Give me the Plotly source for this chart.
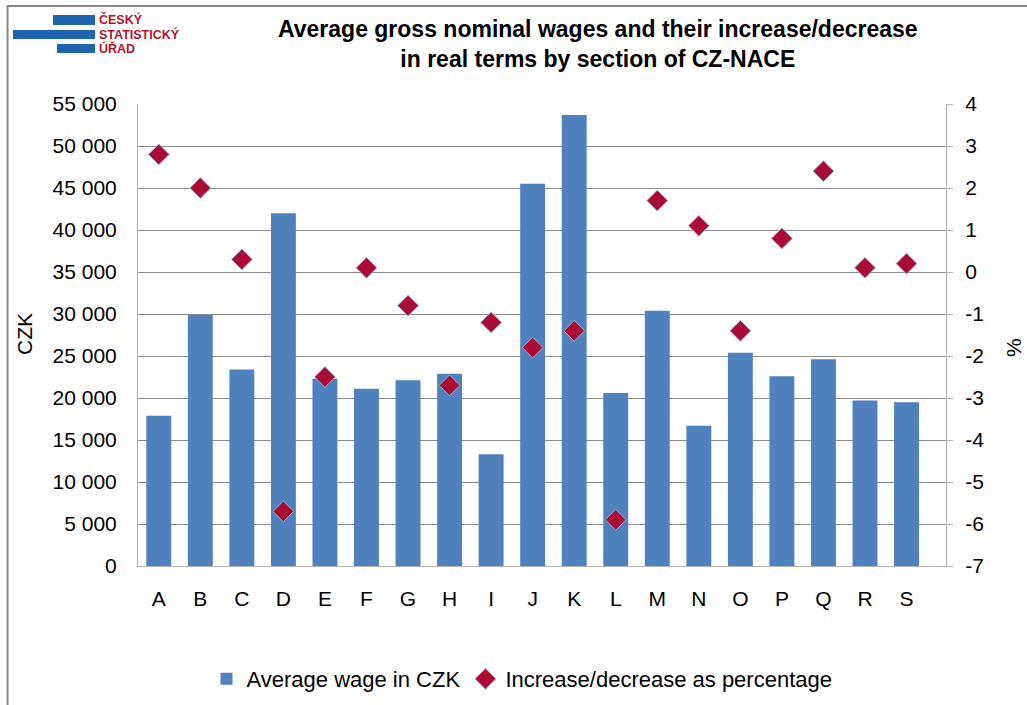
import plotly.graph_objects as go

categories = ["A", "B", "C", "D", "E", "F", "G", "H", "I", "J",
              "K", "L", "M", "N", "O", "P", "Q", "R", "S"]
avg_wage_czk = [17900, 29900, 23400, 42000, 22300, 21100, 22100, 22900, 13300, 45500,
                53700, 20600, 30400, 16700, 25400, 22600, 24600, 19700, 19500]
real_change_pct = [2.8, 2.0, 0.3, -5.7, -2.5, 0.1, -0.8, -2.7, -1.2, -1.8,
                   -1.4, -5.9, 1.7, 1.1, -1.4, 0.8, 2.4, 0.1, 0.2]
left_ticks = list(range(0, 55001, 5000))
right_ticks = list(range(-7, 5))

W, H = 1027, 705
L, R, T, B = 138, 946, 104, 566


def px(x):
    return (x - L) / (R - L)


def py(y):
    return (B - y) / (B - T)


FONT = "Arial, Liberation Sans, sans-serif"
TICK = 21

fig = go.Figure()
fig.add_trace(go.Bar(
    x=categories, y=avg_wage_czk, name="Average wage in CZK",
    marker=dict(color="#4F81BD", line=dict(width=0)), yaxis="y",
))
fig.add_trace(go.Scatter(
    x=categories, y=real_change_pct, name="Increase/decrease as percentage",
    mode="markers", yaxis="y2",
    marker=dict(symbol="diamond", size=16, color="#AB0C35",
                line=dict(color="#9FB2D6", width=1)),
))

fig.update_layout(
    width=W, height=H,
    margin=dict(l=L, r=W - R, t=T, b=H - B, autoexpand=False),
    paper_bgcolor="white", plot_bgcolor="white",
    font=dict(family=FONT, size=TICK, color="black"),
    bargap=0.40,
    showlegend=True,
    legend=dict(orientation="h", x=px(522), xanchor="center", y=py(679), yanchor="middle",
                font=dict(size=22), itemwidth=30, bgcolor="rgba(0,0,0,0)"),
    xaxis=dict(range=[-0.5, len(categories) - 0.05],
               showline=True, linecolor="#B3B3B3", linewidth=1, ticks="",
               showgrid=False, ticklabelstandoff=14, tickfont=dict(size=TICK)),
    yaxis=dict(range=[0, 55000], tickvals=left_ticks,
               ticktext=[f"{v:,}".replace(",", " ") for v in left_ticks],
               showgrid=True, gridcolor="#8C8C8C", gridwidth=1,
               showline=True, linecolor="#B3B3B3", linewidth=1, ticks="",
               zeroline=False, ticklabelstandoff=16, tickfont=dict(size=TICK)),
    yaxis2=dict(range=[-7, 4], tickvals=right_ticks, ticktext=[str(v) for v in right_ticks],
                overlaying="y", side="right", showgrid=False, zeroline=False,
                showline=True, linecolor="#B3B3B3", linewidth=1,
                ticks="outside", ticklen=6, tickcolor="#B3B3B3",
                ticklabelstandoff=8, tickfont=dict(size=TICK)),
)

annotations = [
    dict(text="<b>Average gross nominal wages and their increase/decrease<br>in real terms by section of CZ-NACE</b>",
         x=px(598), y=py(44), xref="paper", yref="paper", xanchor="center", yanchor="middle",
         showarrow=False, font=dict(size=23, family=FONT), align="center"),
    dict(text="CZK", x=px(24), y=py(334), xref="paper", yref="paper", textangle=-90,
         showarrow=False, font=dict(size=TICK), xanchor="center", yanchor="middle"),
    dict(text="%", x=px(1013), y=py(348), xref="paper", yref="paper", textangle=-90,
         showarrow=False, font=dict(size=TICK), xanchor="center", yanchor="middle"),
]
logo_lines = [("ČESKÝ", 20), ("STATISTICKÝ", 34.5), ("ÚŘAD", 49)]
for txt, yy in logo_lines:
    annotations.append(dict(text=f"<b>{txt}</b>", x=px(97), y=py(yy), xref="paper", yref="paper",
                            xanchor="left", yanchor="middle", showarrow=False,
                            font=dict(size=12.5, color="#B5122E", family=FONT)))
fig.update_layout(annotations=annotations)

shapes = []
for x0, x1, y0, y1 in [(53, 95, 15, 25), (13, 95, 30, 39), (57, 95, 44, 53)]:
    shapes.append(dict(type="rect", xref="paper", yref="paper",
                       x0=px(x0), x1=px(x1), y0=py(y0), y1=py(y1),
                       fillcolor="#1F64AF", line=dict(width=0)))
shapes.append(dict(type="line", xref="paper", yref="paper", x0=px(7), x1=px(1027),
                   y0=py(6), y1=py(6), line=dict(color="#888888", width=2)))
shapes.append(dict(type="line", xref="paper", yref="paper", x0=px(7.5), x1=px(7.5),
                   y0=py(5), y1=py(705), line=dict(color="#888888", width=2)))
fig.update_layout(shapes=shapes)

fig.write_html("out.html", config={"displayModeBar": False},
               post_script="document.body.style.margin='0';document.body.style.padding='0';"
                           "document.body.style.overflow='hidden';")
